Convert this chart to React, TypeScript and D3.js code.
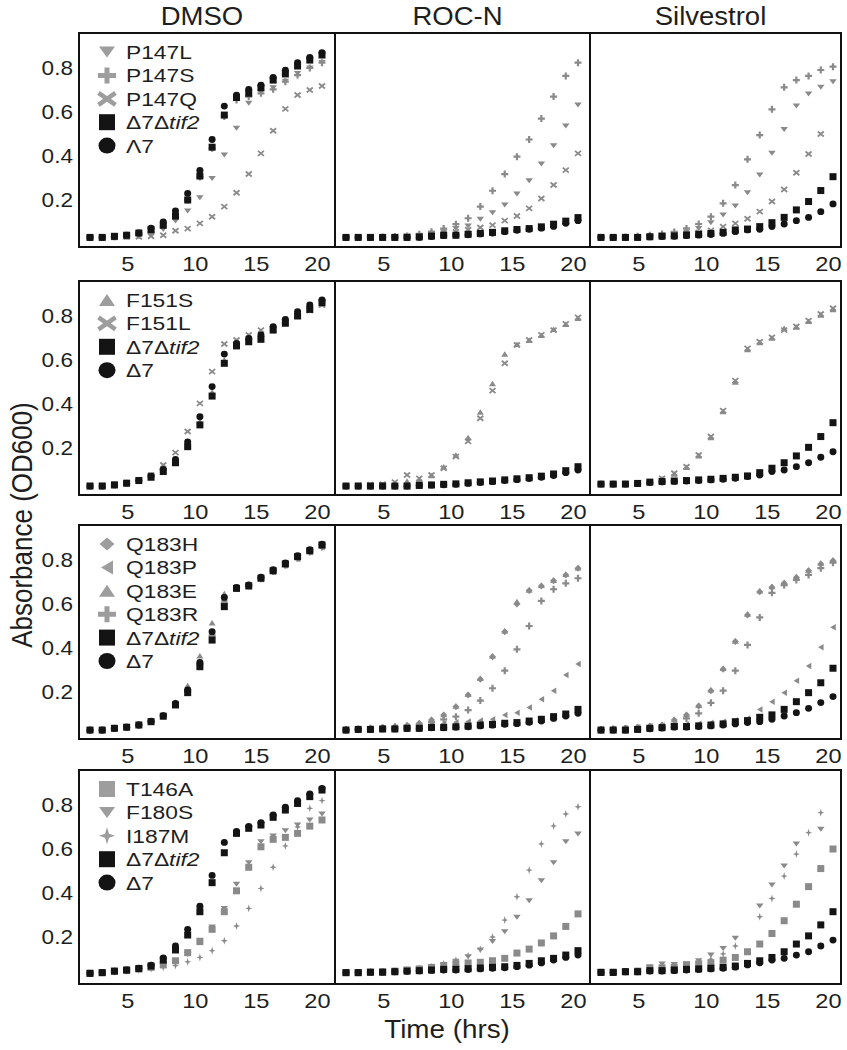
import React from 'react';
import * as d3 from 'd3';

// ---------- axes / categories ----------
const times = [2, 3, 4, 5, 6, 7, 8, 9, 10, 11, 12, 13, 14, 15, 16, 17, 18, 19, 20, 21];
const treatments = ['DMSO', 'ROC-N', 'Silvestrol'];
const yTicks = [0.2, 0.4, 0.6, 0.8];
const xTicks = [5, 10, 15, 20];

// ---------- row 1 : P147 ----------
const P147L_DMSO = [0.03, 0.03, 0.032, 0.035, 0.04, 0.048, 0.066, 0.105, 0.15, 0.21, 0.298, 0.404, 0.526, 0.64, 0.69, 0.71, 0.74, 0.775, 0.8, 0.825];
const P147S_DMSO = [0.03, 0.03, 0.032, 0.035, 0.04, 0.05, 0.08, 0.117, 0.2, 0.305, 0.435, 0.58, 0.655, 0.67, 0.685, 0.703, 0.738, 0.768, 0.8, 0.824];
const P147Q_DMSO = [0.03, 0.03, 0.03, 0.032, 0.033, 0.035, 0.04, 0.06, 0.07, 0.094, 0.124, 0.17, 0.233, 0.318, 0.412, 0.515, 0.614, 0.677, 0.7, 0.718];
const tif2_R1_DMSO = [0.03, 0.03, 0.035, 0.04, 0.05, 0.065, 0.085, 0.127, 0.2, 0.309, 0.44, 0.586, 0.666, 0.685, 0.71, 0.745, 0.773, 0.809, 0.836, 0.859];
const d7_R1_DMSO = [0.03, 0.03, 0.035, 0.04, 0.05, 0.072, 0.1, 0.15, 0.23, 0.335, 0.475, 0.627, 0.677, 0.703, 0.722, 0.757, 0.79, 0.824, 0.848, 0.87];

const P147L_ROCN = [0.03, 0.03, 0.03, 0.032, 0.034, 0.036, 0.04, 0.045, 0.055, 0.07, 0.082, 0.112, 0.142, 0.177, 0.227, 0.288, 0.364, 0.447, 0.536, 0.632];
const P147S_ROCN = [0.03, 0.03, 0.03, 0.032, 0.034, 0.036, 0.044, 0.056, 0.07, 0.09, 0.117, 0.17, 0.242, 0.318, 0.397, 0.475, 0.57, 0.67, 0.764, 0.824];
const P147Q_ROCN = [0.03, 0.03, 0.03, 0.03, 0.032, 0.034, 0.036, 0.04, 0.045, 0.055, 0.065, 0.075, 0.086, 0.106, 0.127, 0.162, 0.207, 0.268, 0.336, 0.412];
const tif2_R1_ROCN = [0.03, 0.03, 0.03, 0.03, 0.03, 0.03, 0.032, 0.036, 0.04, 0.04, 0.044, 0.048, 0.053, 0.06, 0.066, 0.07, 0.078, 0.09, 0.104, 0.12];
const d7_R1_ROCN = [0.03, 0.03, 0.03, 0.03, 0.03, 0.03, 0.03, 0.034, 0.038, 0.04, 0.042, 0.046, 0.05, 0.056, 0.062, 0.067, 0.072, 0.08, 0.094, 0.106];

const P147L_SIL = [0.03, 0.03, 0.03, 0.032, 0.035, 0.04, 0.045, 0.055, 0.07, 0.097, 0.132, 0.173, 0.233, 0.314, 0.412, 0.521, 0.627, 0.682, 0.712, 0.738];
const P147S_SIL = [0.03, 0.03, 0.032, 0.035, 0.04, 0.045, 0.055, 0.071, 0.091, 0.124, 0.185, 0.268, 0.385, 0.495, 0.612, 0.712, 0.745, 0.764, 0.791, 0.806];
const P147Q_SIL = [0.03, 0.03, 0.03, 0.03, 0.032, 0.034, 0.04, 0.045, 0.052, 0.062, 0.079, 0.094, 0.115, 0.147, 0.193, 0.248, 0.324, 0.409, 0.5, null];
const tif2_R1_SIL = [0.03, 0.03, 0.03, 0.03, 0.033, 0.036, 0.037, 0.041, 0.044, 0.048, 0.053, 0.064, 0.068, 0.079, 0.097, 0.121, 0.155, 0.193, 0.243, 0.306];
const d7_R1_SIL = [0.03, 0.03, 0.03, 0.03, 0.032, 0.034, 0.035, 0.038, 0.04, 0.043, 0.048, 0.056, 0.064, 0.067, 0.079, 0.091, 0.106, 0.121, 0.147, 0.182];

// ---------- row 2 : F151 ----------
const F151S_DMSO = [0.027, 0.027, 0.032, 0.04, 0.052, 0.07, 0.098, 0.14, 0.215, 0.32, 0.455, 0.6, 0.67, 0.69, 0.705, 0.74, 0.775, 0.805, 0.835, 0.855];
const F151L_DMSO = [0.03, 0.03, 0.035, 0.042, 0.055, 0.077, 0.123, 0.179, 0.275, 0.403, 0.547, 0.673, 0.691, 0.714, 0.736, 0.745, 0.775, 0.8, 0.825, 0.85];
const tif2_R2_DMSO = [0.027, 0.027, 0.032, 0.04, 0.052, 0.067, 0.093, 0.133, 0.206, 0.305, 0.436, 0.585, 0.664, 0.683, 0.694, 0.736, 0.767, 0.8, 0.83, 0.861];
const d7_R2_DMSO = [0.027, 0.027, 0.032, 0.04, 0.053, 0.073, 0.103, 0.148, 0.228, 0.342, 0.479, 0.627, 0.676, 0.698, 0.714, 0.752, 0.785, 0.82, 0.85, 0.873];

const F151S_ROCN = [0.027, 0.028, 0.03, 0.033, 0.04, 0.05, 0.058, 0.075, 0.115, 0.168, 0.248, 0.364, 0.493, 0.627, 0.672, 0.69, 0.712, 0.74, 0.762, 0.79];
const F151L_ROCN = [0.027, 0.03, 0.033, 0.036, 0.045, 0.077, 0.062, 0.077, 0.108, 0.161, 0.23, 0.335, 0.461, 0.585, 0.668, 0.691, 0.714, 0.736, 0.764, 0.794];
const tif2_R2_ROCN = [0.027, 0.027, 0.027, 0.027, 0.027, 0.027, 0.03, 0.032, 0.035, 0.037, 0.042, 0.046, 0.05, 0.055, 0.06, 0.065, 0.072, 0.082, 0.097, 0.115];
const d7_R2_ROCN = [0.027, 0.027, 0.027, 0.027, 0.027, 0.027, 0.03, 0.031, 0.033, 0.035, 0.039, 0.043, 0.047, 0.052, 0.056, 0.061, 0.067, 0.075, 0.088, 0.1];

const F151S_SIL = [0.036, 0.036, 0.038, 0.04, 0.045, 0.06, 0.082, 0.112, 0.165, 0.248, 0.366, 0.5, 0.648, 0.68, 0.7, 0.744, 0.75, 0.776, 0.805, 0.83];
const F151L_SIL = [0.036, 0.036, 0.038, 0.04, 0.045, 0.062, 0.085, 0.115, 0.168, 0.252, 0.37, 0.506, 0.653, 0.683, 0.703, 0.736, 0.752, 0.779, 0.809, 0.835];
const tif2_R2_SIL = [0.036, 0.036, 0.036, 0.039, 0.045, 0.048, 0.05, 0.052, 0.055, 0.058, 0.062, 0.067, 0.073, 0.088, 0.108, 0.133, 0.164, 0.203, 0.252, 0.315];
const d7_R2_SIL = [0.036, 0.036, 0.036, 0.038, 0.043, 0.046, 0.048, 0.05, 0.052, 0.055, 0.058, 0.062, 0.07, 0.077, 0.093, 0.1, 0.115, 0.133, 0.158, 0.183];

// ---------- row 3 : Q183 ----------
const Q183H_DMSO = [0.027, 0.027, 0.035, 0.04, 0.05, 0.066, 0.092, 0.145, 0.205, 0.33, 0.46, 0.615, 0.672, 0.684, 0.715, 0.748, 0.778, 0.81, 0.838, 0.86];
const Q183P_DMSO = [0.027, 0.027, 0.035, 0.04, 0.05, 0.066, 0.09, 0.142, 0.2, 0.32, 0.45, 0.6, 0.668, 0.68, 0.713, 0.745, 0.775, 0.805, 0.835, 0.858];
const Q183E_DMSO = [0.027, 0.028, 0.036, 0.042, 0.052, 0.07, 0.098, 0.155, 0.23, 0.365, 0.515, 0.648, 0.68, 0.69, 0.72, 0.753, 0.785, 0.818, 0.845, 0.865];
const Q183R_DMSO = [0.027, 0.027, 0.035, 0.04, 0.05, 0.066, 0.091, 0.143, 0.202, 0.325, 0.455, 0.605, 0.67, 0.682, 0.715, 0.748, 0.776, 0.808, 0.836, 0.859];
const tif2_R3_DMSO = [0.027, 0.027, 0.035, 0.04, 0.05, 0.065, 0.09, 0.141, 0.197, 0.315, 0.436, 0.588, 0.671, 0.682, 0.717, 0.751, 0.782, 0.815, 0.842, 0.868];
const d7_R3_DMSO = [0.027, 0.027, 0.035, 0.04, 0.05, 0.067, 0.093, 0.148, 0.21, 0.335, 0.474, 0.63, 0.676, 0.687, 0.722, 0.756, 0.787, 0.82, 0.847, 0.872];

const Q183H_ROCN = [0.03, 0.032, 0.035, 0.038, 0.042, 0.048, 0.058, 0.073, 0.095, 0.133, 0.186, 0.258, 0.36, 0.474, 0.6, 0.661, 0.682, 0.706, 0.732, 0.762];
const Q183P_ROCN = [0.03, 0.032, 0.034, 0.036, 0.04, 0.043, 0.047, 0.052, 0.057, 0.062, 0.066, 0.07, 0.076, 0.095, 0.106, 0.13, 0.167, 0.206, 0.277, 0.327];
const Q183E_ROCN = [0.03, 0.032, 0.035, 0.038, 0.043, 0.05, 0.06, 0.076, 0.098, 0.136, 0.19, 0.262, 0.365, 0.478, 0.611, 0.664, 0.685, 0.708, 0.735, 0.765];
const Q183R_ROCN = [0.03, 0.032, 0.035, 0.038, 0.042, 0.046, 0.052, 0.062, 0.076, 0.088, 0.118, 0.161, 0.217, 0.297, 0.394, 0.5, 0.614, 0.667, 0.694, 0.717];
const tif2_R3_ROCN = [0.027, 0.03, 0.03, 0.032, 0.032, 0.035, 0.035, 0.039, 0.039, 0.042, 0.045, 0.05, 0.053, 0.058, 0.061, 0.068, 0.076, 0.088, 0.1, 0.121];
const d7_R3_ROCN = [0.027, 0.03, 0.03, 0.032, 0.032, 0.034, 0.034, 0.037, 0.037, 0.04, 0.042, 0.046, 0.049, 0.053, 0.056, 0.062, 0.068, 0.08, 0.091, 0.103];

const Q183H_SIL = [0.03, 0.032, 0.036, 0.04, 0.045, 0.05, 0.073, 0.096, 0.136, 0.206, 0.303, 0.429, 0.55, 0.656, 0.676, 0.694, 0.721, 0.751, 0.782, 0.797];
const Q183P_SIL = [0.03, 0.032, 0.035, 0.04, 0.045, 0.048, 0.05, 0.053, 0.056, 0.06, 0.065, 0.072, 0.08, 0.121, 0.156, 0.197, 0.251, 0.318, 0.403, 0.494];
const Q183E_SIL = [0.03, 0.032, 0.036, 0.04, 0.046, 0.052, 0.075, 0.098, 0.14, 0.21, 0.308, 0.432, 0.555, 0.66, 0.68, 0.698, 0.725, 0.755, 0.786, 0.8];
const Q183R_SIL = [0.03, 0.032, 0.034, 0.037, 0.04, 0.045, 0.055, 0.08, 0.103, 0.151, 0.206, 0.297, 0.414, 0.539, 0.651, 0.686, 0.709, 0.732, 0.763, 0.788];
const tif2_R3_SIL = [0.027, 0.027, 0.027, 0.03, 0.035, 0.038, 0.043, 0.043, 0.046, 0.05, 0.055, 0.065, 0.07, 0.085, 0.096, 0.121, 0.156, 0.197, 0.242, 0.308];
const d7_R3_SIL = [0.027, 0.027, 0.027, 0.03, 0.033, 0.036, 0.04, 0.04, 0.043, 0.046, 0.05, 0.055, 0.061, 0.065, 0.076, 0.091, 0.106, 0.126, 0.152, 0.179];

// ---------- row 4 : T146A / F180S / I187M ----------
const T146A_DMSO = [0.035, 0.038, 0.044, 0.048, 0.054, 0.062, 0.073, 0.092, 0.129, 0.179, 0.235, 0.315, 0.41, 0.517, 0.61, 0.644, 0.653, 0.671, 0.704, 0.732];
const F180S_DMSO = [0.035, 0.038, 0.044, 0.048, 0.054, 0.062, 0.07, 0.085, 0.12, 0.185, 0.245, 0.33, 0.44, 0.538, 0.633, 0.659, 0.683, 0.709, 0.732, 0.759];
const I187M_DMSO = [0.035, 0.037, 0.042, 0.046, 0.05, 0.055, 0.062, 0.07, 0.087, 0.107, 0.138, 0.183, 0.25, 0.33, 0.421, 0.517, 0.614, 0.7, 0.785, 0.82];
const tif2_R4_DMSO = [0.035, 0.038, 0.045, 0.05, 0.057, 0.068, 0.095, 0.141, 0.209, 0.315, 0.447, 0.583, 0.671, 0.694, 0.709, 0.744, 0.777, 0.807, 0.838, 0.868];
const d7_R4_DMSO = [0.035, 0.038, 0.045, 0.05, 0.058, 0.072, 0.105, 0.16, 0.235, 0.34, 0.48, 0.63, 0.68, 0.703, 0.72, 0.755, 0.79, 0.82, 0.85, 0.875];

const T146A_ROCN = [0.038, 0.038, 0.04, 0.042, 0.045, 0.05, 0.055, 0.062, 0.07, 0.078, 0.082, 0.085, 0.092, 0.103, 0.127, 0.145, 0.173, 0.205, 0.248, 0.305];
const F180S_ROCN = [0.038, 0.038, 0.04, 0.042, 0.045, 0.05, 0.056, 0.065, 0.075, 0.09, 0.11, 0.141, 0.179, 0.224, 0.29, 0.365, 0.456, 0.538, 0.633, 0.668];
const I187M_ROCN = [0.038, 0.038, 0.04, 0.042, 0.045, 0.05, 0.056, 0.065, 0.078, 0.095, 0.115, 0.144, 0.2, 0.277, 0.383, 0.504, 0.623, 0.705, 0.759, 0.792];
const tif2_R4_ROCN = [0.038, 0.038, 0.04, 0.04, 0.042, 0.045, 0.047, 0.05, 0.053, 0.053, 0.056, 0.059, 0.062, 0.065, 0.071, 0.08, 0.092, 0.103, 0.118, 0.138];
const d7_R4_ROCN = [0.038, 0.038, 0.04, 0.04, 0.042, 0.044, 0.046, 0.048, 0.05, 0.05, 0.052, 0.055, 0.058, 0.06, 0.065, 0.072, 0.082, 0.095, 0.107, 0.118];

const T146A_SIL = [0.04, 0.04, 0.043, 0.045, 0.058, 0.06, 0.062, 0.073, 0.078, 0.083, 0.095, 0.107, 0.133, 0.168, 0.216, 0.274, 0.349, 0.429, 0.511, 0.6];
const F180S_SIL = [0.04, 0.04, 0.043, 0.045, 0.065, 0.077, 0.075, 0.078, 0.092, 0.118, 0.148, 0.194, null, 0.341, 0.436, 0.523, 0.623, null, 0.69, null];
const I187M_SIL = [0.04, 0.04, 0.042, 0.045, 0.05, 0.055, 0.06, 0.065, 0.08, 0.099, 0.123, 0.159, null, 0.292, 0.375, 0.477, 0.577, 0.674, 0.765, null];
const tif2_R4_SIL = [0.039, 0.039, 0.042, 0.042, 0.047, 0.047, 0.05, 0.053, 0.055, 0.058, 0.062, 0.068, 0.08, 0.092, 0.107, 0.133, 0.168, 0.205, 0.255, 0.315];
const d7_R4_SIL = [0.039, 0.039, 0.042, 0.042, 0.045, 0.045, 0.047, 0.05, 0.052, 0.055, 0.058, 0.063, 0.073, 0.083, 0.095, 0.103, 0.118, 0.133, 0.159, 0.186];

// ---------- assembly ----------
type Series = { name: string; shape: string; grey: boolean; data: (number | null)[][] };

const rowsDef: Series[][] = [
  [
    { name: 'P147L', shape: 'triDown', grey: true, data: [P147L_DMSO, P147L_ROCN, P147L_SIL] },
    { name: 'P147S', shape: 'plus', grey: true, data: [P147S_DMSO, P147S_ROCN, P147S_SIL] },
    { name: 'P147Q', shape: 'cross', grey: true, data: [P147Q_DMSO, P147Q_ROCN, P147Q_SIL] },
    { name: 'TIF2', shape: 'square', grey: false, data: [tif2_R1_DMSO, tif2_R1_ROCN, tif2_R1_SIL] },
    { name: 'Λ7', shape: 'circle', grey: false, data: [d7_R1_DMSO, d7_R1_ROCN, d7_R1_SIL] },
  ],
  [
    { name: 'F151S', shape: 'triUp', grey: true, data: [F151S_DMSO, F151S_ROCN, F151S_SIL] },
    { name: 'F151L', shape: 'cross', grey: true, data: [F151L_DMSO, F151L_ROCN, F151L_SIL] },
    { name: 'TIF2', shape: 'square', grey: false, data: [tif2_R2_DMSO, tif2_R2_ROCN, tif2_R2_SIL] },
    { name: 'Δ7', shape: 'circle', grey: false, data: [d7_R2_DMSO, d7_R2_ROCN, d7_R2_SIL] },
  ],
  [
    { name: 'Q183H', shape: 'diamond', grey: true, data: [Q183H_DMSO, Q183H_ROCN, Q183H_SIL] },
    { name: 'Q183P', shape: 'triLeft', grey: true, data: [Q183P_DMSO, Q183P_ROCN, Q183P_SIL] },
    { name: 'Q183E', shape: 'triUp', grey: true, data: [Q183E_DMSO, Q183E_ROCN, Q183E_SIL] },
    { name: 'Q183R', shape: 'plus', grey: true, data: [Q183R_DMSO, Q183R_ROCN, Q183R_SIL] },
    { name: 'TIF2', shape: 'square', grey: false, data: [tif2_R3_DMSO, tif2_R3_ROCN, tif2_R3_SIL] },
    { name: 'Δ7', shape: 'circle', grey: false, data: [d7_R3_DMSO, d7_R3_ROCN, d7_R3_SIL] },
  ],
  [
    { name: 'T146A', shape: 'square', grey: true, data: [T146A_DMSO, T146A_ROCN, T146A_SIL] },
    { name: 'F180S', shape: 'triDown', grey: true, data: [F180S_DMSO, F180S_ROCN, F180S_SIL] },
    { name: 'I187M', shape: 'star', grey: true, data: [I187M_DMSO, I187M_ROCN, I187M_SIL] },
    { name: 'TIF2', shape: 'square', grey: false, data: [tif2_R4_DMSO, tif2_R4_ROCN, tif2_R4_SIL] },
    { name: 'Δ7', shape: 'circle', grey: false, data: [d7_R4_DMSO, d7_R4_ROCN, d7_R4_SIL] },
  ],
];

// ---------- layout ----------
const COL_LEFT = [79, 335, 590];
const COL_W = [256, 255, 251];
const ROW_TOP = [33, 281, 525, 770];
const PANEL_H = 214;
const FONT = 'Liberation Sans, Arial, Helvetica, sans-serif';
const GREY_DATA = '#8a8a8a';
const GREY_LEG = '#9d9d9d';
const BLACK = '#141414';
const TEXT = '#1e1e1e';

const dataSize: Record<string, [number, number, number]> = {
  square: [7, 7, 0],
  circle: [7, 6.8, 0],
  triDown: [7.5, 5, 0],
  triUp: [7, 5.5, 0],
  triLeft: [5.5, 6.5, 0],
  diamond: [7, 7, 0],
  plus: [7, 7, 2.2],
  cross: [6, 5, 1.8],
  star: [7, 8, 0.9],
};
const legendSize: Record<string, [number, number, number]> = {
  square: [16, 16, 0],
  circle: [17, 16, 0],
  triDown: [16, 11, 0],
  triUp: [16, 12, 0],
  triLeft: [12, 14, 0],
  diamond: [15, 13, 0],
  plus: [18, 16, 5],
  cross: [17, 12, 4.5],
  star: [16, 17, 2],
};

function markerPath(shape: string, w: number, h: number, t: number): string {
  const a = w / 2, b = h / 2;
  switch (shape) {
    case 'square':
      return `M${-a},${-b}H${a}V${b}H${-a}Z`;
    case 'circle':
      return `M${-a},0A${a},${b} 0 1,0 ${a},0A${a},${b} 0 1,0 ${-a},0Z`;
    case 'triDown':
      return `M${-a},${-b}L${a},${-b}L0,${b}Z`;
    case 'triUp':
      return `M${-a},${b}L${a},${b}L0,${-b}Z`;
    case 'triLeft':
      return `M${a},${-b}L${a},${b}L${-a},0Z`;
    case 'diamond':
      return `M0,${-b}L${a},0L0,${b}L${-a},0Z`;
    case 'plus': {
      const c = t / 2;
      return `M${-c},${-b}H${c}V${-c}H${a}V${c}H${c}V${b}H${-c}V${c}H${-a}V${-c}H${-c}Z`;
    }
    case 'cross':
      return `M${-a},${-b}L${a},${b}M${-a},${b}L${a},${-b}`;
    case 'star': {
      const c = t;
      return `M0,${-b}L${c},${-c}L${a},0L${c},${c}L0,${b}L${-c},${c}L${-a},0L${-c},${-c}Z`;
    }
  }
  return '';
}

function Marker({ shape, x, y, color, sizes }: { shape: string; x: number; y: number; color: string; sizes: Record<string, [number, number, number]> }) {
  const [w, h, t] = sizes[shape];
  const d = markerPath(shape, w, h, t);
  if (shape === 'cross') {
    return <path d={d} transform={`translate(${x},${y})`} stroke={color} strokeWidth={t} fill="none" />;
  }
  return <path d={d} transform={`translate(${x},${y})`} fill={color} />;
}

function SText(props: { x: number; y: number; sx?: number; sy?: number; size: number; anchor?: string; rotate?: number; children: React.ReactNode }) {
  const { x, y, sx = 1, sy = 1, size, anchor = 'start', rotate = 0, children } = props;
  return (
    <text
      transform={`translate(${x},${y}) rotate(${rotate}) scale(${sx},${sy})`}
      textAnchor={anchor as any}
      fontSize={size}
      fontFamily={FONT}
      fill={TEXT}
    >
      {children}
    </text>
  );
}

function LegendLabel({ name }: { name: string }) {
  if (name === 'TIF2') {
    return (
      <>
        <tspan>Δ7Δ</tspan>
        <tspan fontStyle="italic">tif2</tspan>
      </>
    );
  }
  return <>{name}</>;
}

function Panel({ r, c }: { r: number; c: number }) {
  const left = COL_LEFT[c];
  const top = ROW_TOP[r];
  const x = d3.scaleLinear().domain([times[0], times[times.length - 1]]).range([left + 11, left + 243]);
  const y = d3.scaleLinear().domain([-3 / 220, 211 / 220]).range([top + PANEL_H, top]);
  const series = rowsDef[r];
  return (
    <g>
      {series.map((s, si) => (
        <g key={si}>
          {times.map((t, i) => {
            const v = s.data[c][i];
            if (v === null || v === undefined) return null;
            return <Marker key={i} shape={s.shape} x={x(t)} y={y(v)} color={s.grey ? GREY_DATA : BLACK} sizes={dataSize} />;
          })}
        </g>
      ))}
      <rect x={left} y={top} width={COL_W[c]} height={PANEL_H} fill="none" stroke="#111" strokeWidth={2} />
      {xTicks.map((t) => (
        <SText key={t} x={x(t) - 5.5} y={top + PANEL_H + 24} sx={1.18} size={20}>
          {t}
        </SText>
      ))}
      {c === 0 &&
        yTicks.map((v) => (
          <SText key={v} x={left - 6} y={y(v) + 7} sx={1.13} size={20} anchor="end">
            {v.toFixed(1)}
          </SText>
        ))}
      {c === 0 &&
        series.map((s, si) => {
          const cy = top + 19 + si * 23.4;
          return (
            <g key={'leg' + si}>
              <Marker shape={s.shape} x={left + 28} y={cy} color={s.grey ? GREY_LEG : BLACK} sizes={legendSize} />
              <SText x={left + 47} y={cy + 7} sx={1.2} size={19}>
                <LegendLabel name={s.name} />
              </SText>
            </g>
          );
        })}
    </g>
  );
}

export default function App() {
  return (
    <svg width={847} height={1050} style={{ position: 'absolute', left: 0, top: 0, background: '#fff' }}>
      <rect x={0} y={0} width={847} height={1050} fill="#fff" />
      {treatments.map((t, c) => (
        <SText key={t} x={COL_LEFT[c] + COL_W[c] / 2 - 5} y={25} sx={1.1} size={25} anchor="middle">
          {t}
        </SText>
      ))}
      {ROW_TOP.map((_, r) => treatments.map((_, c) => <Panel key={`${r}-${c}`} r={r} c={c} />))}
      <SText x={447} y={1038} sx={1.07} size={26} anchor="middle">
        Time (hrs)
      </SText>
      <SText x={32} y={525} rotate={-90} sy={1.15} size={26} anchor="middle">
        Absorbance (OD600)
      </SText>
    </svg>
  );
}
